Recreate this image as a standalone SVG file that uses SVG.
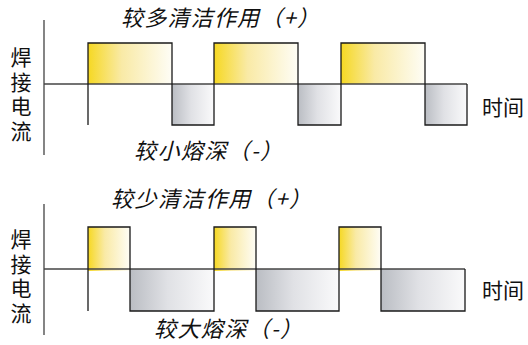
<svg xmlns="http://www.w3.org/2000/svg" width="528" height="345" viewBox="0 0 528 345">
<defs>
<linearGradient id="gy" x1="0" y1="0" x2="1" y2="0">
<stop offset="0" stop-color="#f6d822"/>
<stop offset="0.4" stop-color="#f9eaa6"/>
<stop offset="1" stop-color="#fefdf6"/>
</linearGradient>
<linearGradient id="gg" x1="0" y1="0" x2="1" y2="0">
<stop offset="0" stop-color="#babdc3"/>
<stop offset="0.45" stop-color="#e0e1e5"/>
<stop offset="1" stop-color="#fafafb"/>
</linearGradient>
<style>
.pos{fill:url(#gy)}
.neg{fill:url(#gg)}
.wave{fill:none;stroke:#1a1a1a;stroke-width:1.3}
.base{fill:none;stroke:#444;stroke-width:1.3}
.axis{fill:none;stroke:#333;stroke-width:1.2}
.lbl{font-family:"Noto Sans CJK SC","Noto Sans",sans-serif;font-size:21px;fill:#111}
.ttl{font-size:22px;font-style:italic}
.vl{text-anchor:middle}
</style>
</defs>
<g id="top-chart">
<g id="top-fills">
<rect class="pos" x="88" y="43" width="84" height="41"/>
<rect class="neg" x="172" y="84" width="42" height="41"/>
<rect class="pos" x="214" y="43" width="84" height="41"/>
<rect class="neg" x="298" y="84" width="43" height="41"/>
<rect class="pos" x="341" y="43" width="84" height="41"/>
<rect class="neg" x="425" y="84" width="42" height="41"/>
</g>
<g id="top-lines">
<line class="axis" x1="44" y1="20" x2="44" y2="155"/>
<line class="base" x1="44" y1="84" x2="467" y2="84"/>
<path class="wave" d="M88,125 V43 H172 V125 H214 V43 H298 V125 H341 V43 H425 V125 H467 V84"/>
</g>
<g id="top-labels">
<text class="lbl ttl" x="121" y="25.5" textLength="198" lengthAdjust="spacing">较多清洁作用（+）</text>
<text class="lbl ttl" x="134" y="158.5" textLength="148" lengthAdjust="spacing">较小熔深（-）</text>
<text class="lbl" x="482" y="115" font-size="20">时间</text>
<text class="lbl vl" x="21" y="65">焊</text>
<text class="lbl vl" x="21" y="89.5">接</text>
<text class="lbl vl" x="21" y="114">电</text>
<text class="lbl vl" x="21" y="138.5">流</text>
</g>
</g>
<g id="bottom-chart">
<g id="bottom-fills">
<rect class="pos" x="88" y="227" width="42" height="44"/>
<rect class="neg" x="130" y="269" width="84" height="42"/>
<rect class="pos" x="214" y="227" width="42" height="44"/>
<rect class="neg" x="256" y="269" width="83" height="42"/>
<rect class="pos" x="339" y="227" width="42" height="44"/>
<rect class="neg" x="381" y="269" width="84" height="42"/>
</g>
<g id="bottom-lines">
<line class="axis" x1="44" y1="204" x2="44" y2="335"/>
<line class="base" x1="44" y1="269" x2="465" y2="269"/>
<path class="wave" d="M88,311 V227 H130 V311 H214 V227 H256 V311 H339 V227 H381 V311 H465 V269"/>
</g>
<g id="bottom-labels">
<text class="lbl ttl" x="111" y="206.5" textLength="200" lengthAdjust="spacing">较少清洁作用（+）</text>
<text class="lbl ttl" x="154" y="336.5" textLength="148" lengthAdjust="spacing">较大熔深（-）</text>
<text class="lbl" x="482" y="298" font-size="20">时间</text>
<text class="lbl vl" x="21" y="247">焊</text>
<text class="lbl vl" x="21" y="271.5">接</text>
<text class="lbl vl" x="21" y="296">电</text>
<text class="lbl vl" x="21" y="320.5">流</text>
</g>
</g>
</svg>
